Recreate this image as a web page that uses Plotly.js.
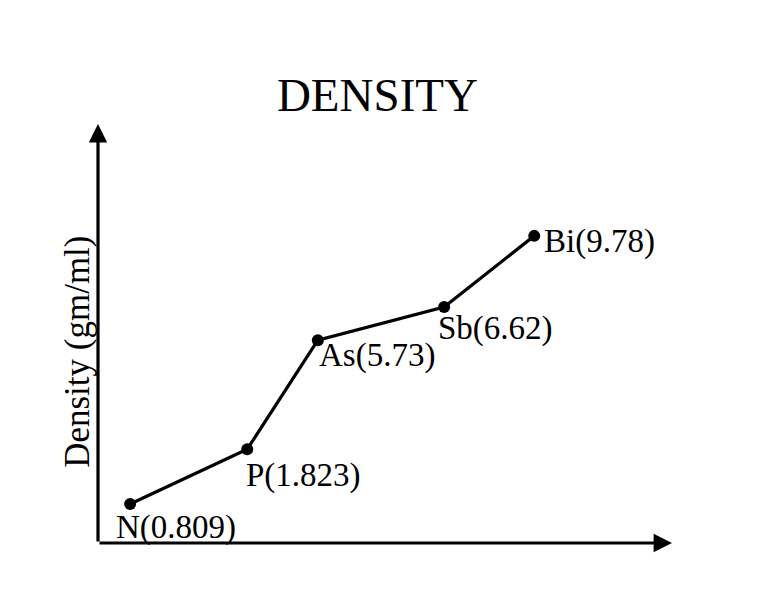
<!DOCTYPE html>
<html>
<head>
<meta charset="utf-8">
<script src="https://cdn.plot.ly/plotly-3.0.1.min.js"></script>
<style>html,body{margin:0;padding:0;background:#fff;}#chart{width:761px;height:597px;}</style>
</head>
<body>
<div id="chart"></div>
<script>
// Elements and their densities (gm/ml) as labelled in the chart
const elements = ["N", "P", "As", "Sb", "Bi"];
const densities = ["0.809", "1.823", "5.73", "6.62", "9.78"];
// Schematic positions of the points (axis units 0-10)
const plotX = [0.56, 2.60, 3.83, 6.03, 7.60];
const plotY = [0.93, 2.24, 4.84, 5.63, 7.33];

const serif = "Liberation Serif, Times New Roman, serif";
const labels = elements.map((e, i) => e + "(" + densities[i] + ")");

// label offsets (pixels) relative to each point
const offs = [[-16, -23], [-3, -26], [-1, -15], [-8, -21], [8, -6]];

const annotations = labels.map((t, i) => ({
  x: plotX[i], y: plotY[i], xref: "x", yref: "y",
  text: t, showarrow: false, xanchor: "left", yanchor: "middle",
  xshift: offs[i][0], yshift: offs[i][1],
  font: {family: serif, size: 33, color: "#000"}
}));

// axes with arrowheads
annotations.push({
  x: 10, y: 0, ax: 0, ay: 0, xref: "x", yref: "y", axref: "x", ayref: "y",
  showarrow: true, arrowhead: 2, arrowsize: 1.15, arrowwidth: 3.2, arrowcolor: "#000", text: "", standoff: 0
});
annotations.push({
  x: 0, y: 10, ax: 0, ay: 0, xref: "x", yref: "y", axref: "x", ayref: "y",
  showarrow: true, arrowhead: 2, arrowsize: 1.15, arrowwidth: 3.2, arrowcolor: "#000", text: "", standoff: 0
});
// y axis title
annotations.push({
  xref: "paper", yref: "paper", x: -0.035, y: 0.456, xanchor: "center", yanchor: "middle",
  text: "Density (gm/ml)", textangle: -90, showarrow: false,
  font: {family: serif, size: 35, color: "#000"}
});

const trace = {
  x: plotX, y: plotY, mode: "lines+markers", type: "scatter",
  line: {color: "#000", width: 3.2},
  marker: {color: "#000", size: 12},
  hoverinfo: "skip"
};

const axisBase = {range: [0, 10], showgrid: false, zeroline: false, showticklabels: false,
  showline: false, ticks: "", fixedrange: true};

const layout = {
  width: 761, height: 597,
  margin: {l: 98, r: 89, t: 124, b: 54},
  paper_bgcolor: "#fff", plot_bgcolor: "#fff",
  title: {text: "DENSITY", font: {family: serif, size: 47, color: "#000"},
    x: 0.496, xref: "container", xanchor: "center", y: 0.841, yref: "container", yanchor: "middle"},
  xaxis: Object.assign({}, axisBase),
  yaxis: Object.assign({}, axisBase),
  showlegend: false,
  annotations: annotations
};

Plotly.newPlot("chart", [trace], layout, {displayModeBar: false, staticPlot: true});
</script>
</body>
</html>
